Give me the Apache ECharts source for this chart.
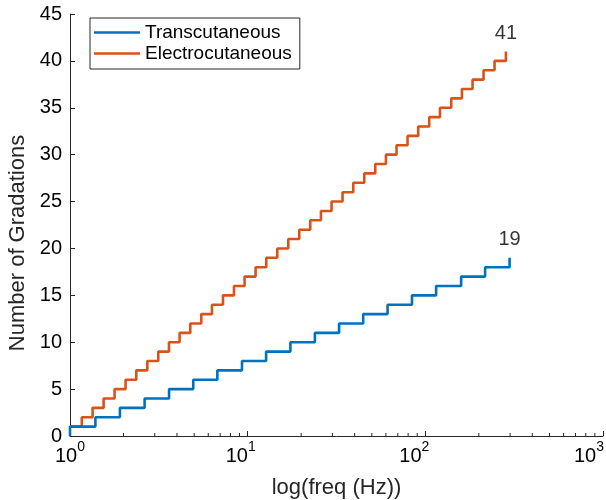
<!DOCTYPE html>
<html>
<head>
<meta charset="utf-8">
<script src="https://cdn.jsdelivr.net/npm/echarts@6/dist/echarts.min.js"></script>
<style>html,body{margin:0;padding:0;background:#fff}#c{width:606px;height:500px}</style>
</head>
<body>
<div id="c"></div>
<script>
// Frequencies (Hz) at which each series steps up one gradation
var transFreq = [1, 1, 1.39, 1.91, 2.63, 3.61, 4.94, 6.75, 9.29, 12.7, 17.4, 23.9, 32.7, 44.7, 61.3, 84.1, 115, 159, 217, 298];
var transLevel = [0, 1, 2, 3, 4, 5, 6, 7, 8, 9, 10, 11, 12, 13, 14, 15, 16, 17, 18, 19];
var elecFreq = [1, 1.165, 1.34, 1.546, 1.782, 2.055, 2.361, 2.723, 3.14, 3.607, 4.139, 4.753, 5.482, 6.297, 7.262, 8.373, 9.607, 11.08, 12.73, 14.68, 16.93, 19.52, 22.5, 25.85, 29.66, 34.2, 39.29, 45.32, 52.26, 60.02, 68.84, 79.4, 91.2, 105.2, 120.9, 139.9, 160.7, 184.4, 212.6, 245.2, 284.1];
var elecLevel = [1, 2, 3, 4, 5, 6, 7, 8, 9, 10, 11, 12, 13, 14, 15, 16, 17, 18, 19, 20, 21, 22, 23, 24, 25, 26, 27, 28, 29, 30, 31, 32, 33, 34, 35, 36, 37, 38, 39, 40, 41];
var seriesNames = ['Transcutaneous', 'Electrocutaneous'];
var xMajorTicks = [1, 10, 100, 1000];
var xMinorTicks = [2, 3, 4, 5, 6, 7, 8, 9, 20, 30, 40, 50, 60, 70, 80, 90, 200, 300, 400, 500, 600, 700, 800, 900];
var yTicks = [0, 5, 10, 15, 20, 25, 30, 35, 40, 45];

var AX = '#262626';
var FONT = 'Liberation Sans, Arial, sans-serif';
function pairs(xs, ys) { return xs.map(function (x, i) { return [x, ys[i]]; }); }
var transData = pairs(transFreq, transLevel);
var elecData = pairs(elecFreq, elecLevel);

var chart = echarts.init(document.getElementById('c'), null, { renderer: 'canvas' });
chart.setOption({
  animation: false,
  backgroundColor: '#fff',
  textStyle: { fontFamily: FONT },
  grid: { left: 70, right: 3, top: 14, bottom: 64, containLabel: false, outerBoundsMode: 'none' },
  legend: {
    data: seriesNames,
    orient: 'vertical',
    left: 90, top: 18,
    padding: [5, 8, 6, 4],
    itemGap: 2,
    icon: 'rect',
    itemWidth: 46, itemHeight: 2.5,
    borderColor: AX, borderWidth: 1, backgroundColor: '#fff',
    textStyle: { fontSize: 19, color: '#000', fontFamily: FONT, lineHeight: 19 }
  },
  xAxis: {
    type: 'log', logBase: 10, min: xMajorTicks[0], max: xMajorTicks[xMajorTicks.length - 1],
    name: 'log(freq (Hz))', nameLocation: 'middle', nameGap: 41,
    nameTextStyle: { fontSize: 22, color: AX, fontFamily: FONT },
    axisLine: { show: true, lineStyle: { color: AX, width: 1 } },
    axisTick: { show: true, inside: true, length: 5, lineStyle: { color: AX } },
    splitLine: { show: false },
    minorTick: { show: false },
    axisLabel: {
      margin: 4, color: '#000',
      formatter: function (v) {
        var k = Math.round(Math.log10(v));
        return '{b|10}{s|' + k + '}' + (k > 0 ? '{p' + k + '|\u00a0}' : '');
      },
      rich: {
        b: { fontSize: 20, fontFamily: FONT, color: '#000', verticalAlign: 'bottom' },
        s: { fontSize: 14, fontFamily: FONT, color: '#000', padding: [0, 0, 12, 0], verticalAlign: 'bottom' },
        p1: { fontSize: 14, width: 14 },
        p2: { fontSize: 14, width: 22 },
        p3: { fontSize: 14, width: 28 }
      }
    }
  },
  yAxis: {
    type: 'value', min: yTicks[0], max: yTicks[yTicks.length - 1], interval: 5,
    name: 'Number of Gradations', nameLocation: 'middle', nameGap: 31, nameRotate: 90,
    nameTextStyle: { fontSize: 22, color: AX, fontFamily: FONT, padding: [0, 36, 0, 0] },
    axisLine: { show: true, lineStyle: { color: AX, width: 1 } },
    axisTick: { show: true, inside: true, length: 5, lineStyle: { color: AX } },
    splitLine: { show: false },
    axisLabel: { fontSize: 20, color: '#000', margin: 8, fontFamily: FONT }
  },
  series: [
    {
      name: seriesNames[1], type: 'line', step: 'end', data: elecData,
      symbol: 'none', z: 2, color: '#D95319',
      lineStyle: { width: 2.6, color: '#D95319' }
    },
    {
      name: seriesNames[0], type: 'line', step: 'end', data: transData,
      symbol: 'none', z: 3, color: '#0072BD',
      lineStyle: { width: 2.6, color: '#0072BD' }
    },
    {
      type: 'scatter', name: 'endLabels', symbolSize: 1, itemStyle: { color: 'rgba(0,0,0,0)' },
      data: [transData[transData.length - 1], elecData[elecData.length - 1]],
      label: {
        show: true, position: 'top', distance: 8, fontSize: 20, color: '#000', fontFamily: FONT,
        formatter: function (p) { return String(p.value[1]); }
      },
      z: 4, silent: true
    },
    {
      type: 'custom', name: 'minorTicks', silent: true, clip: false,
      data: xMinorTicks.map(function (v) { return [v, 0]; }),
      renderItem: function (params, api) {
        var p = api.coord([api.value(0), 0]);
        return { type: 'line', shape: { x1: p[0], y1: p[1], x2: p[0], y2: p[1] - 3 }, style: { stroke: AX, lineWidth: 1 } };
      },
      z: 5
    }
  ]
});
</script>
</body>
</html>
